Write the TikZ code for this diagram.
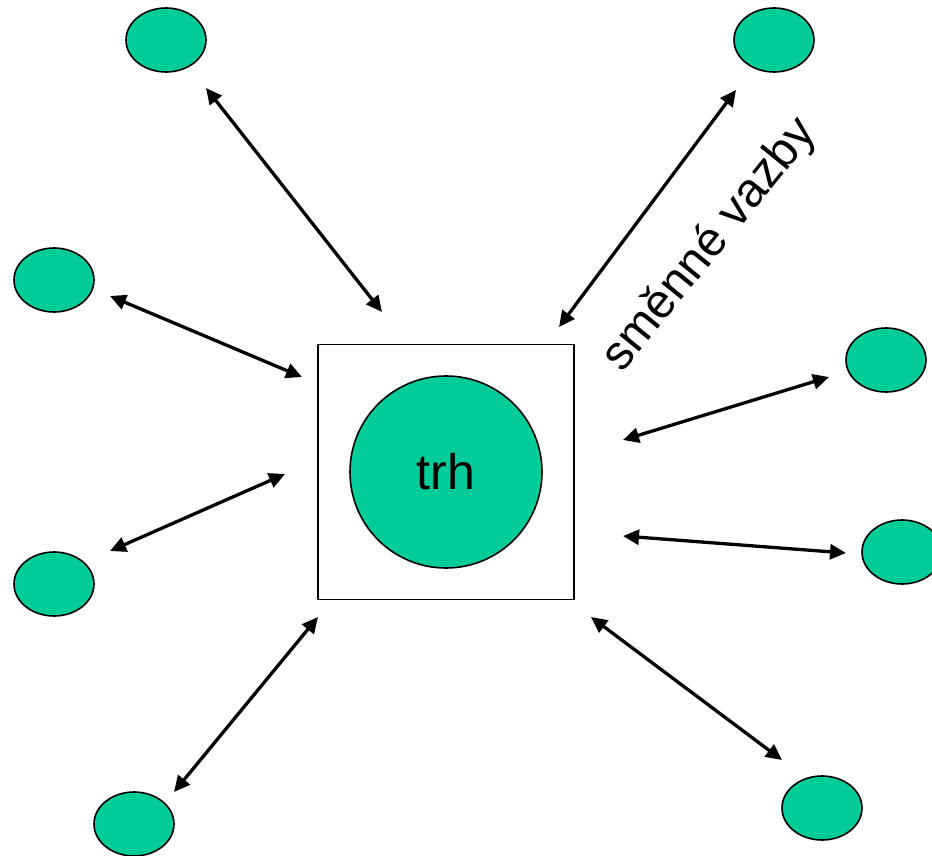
\documentclass[tikz,border=0pt]{standalone}
\usepackage{fontspec}
\setmainfont{Liberation Sans}
\usetikzlibrary{shapes.geometric,arrows.meta}
\definecolor{trhgreen}{HTML}{00CC99}
\tikzset{
  blob/.style={ellipse,draw=black,line width=1.6pt,fill=trhgreen,minimum width=80pt,minimum height=64pt,inner sep=0pt},
  link/.style={line width=3.3pt,{Triangle[length=16pt,width=15pt]}-{Triangle[length=16pt,width=15pt]}}
}
\begin{document}
\begin{tikzpicture}[x=1pt,y=-1pt]
\useasboundingbox (0,0) rectangle (932,856);
% central square and market
\node[draw=black,line width=1.4pt,minimum width=256pt,minimum height=255pt,inner sep=0pt] (box) at (446,472) {};
\node[circle,draw=black,line width=1.6pt,fill=trhgreen,minimum size=192pt,inner sep=0pt,font=\fontsize{50}{60}\selectfont] (trh) at (446,472) {trh};
% outer subjects
\node[blob] (e1) at (166,40) {};
\node[blob] (e2) at (774,40) {};
\node[blob] (e3) at (54,280) {};
\node[blob] (e4) at (886,360) {};
\node[blob] (e5) at (54,584) {};
\node[blob] (e6) at (902,552) {};
\node[blob] (e7) at (134,824) {};
\node[blob] (e8) at (822,808) {};
% arrow end points
\coordinate (a1) at (206,88);  \coordinate (b1) at (382,312);
\coordinate (a2) at (736,90);  \coordinate (b2) at (559,327);
\coordinate (a3) at (110,296); \coordinate (b3) at (302,377);
\coordinate (a4) at (829,377); \coordinate (b4) at (623,440);
\coordinate (a5) at (110,551); \coordinate (b5) at (285,474);
\coordinate (a6) at (846,553); \coordinate (b6) at (623,536);
\coordinate (a7) at (174,792); \coordinate (b7) at (318,617);
\coordinate (a8) at (782,760); \coordinate (b8) at (591,617);
\foreach \i in {1,...,8} {\draw[link] (a\i) -- (b\i);}
% label
\node[rotate=51,font=\fontsize{48}{56}\selectfont,inner sep=0pt] (lab) at (710,245) {směnné vazby};
\end{tikzpicture}
\end{document}
